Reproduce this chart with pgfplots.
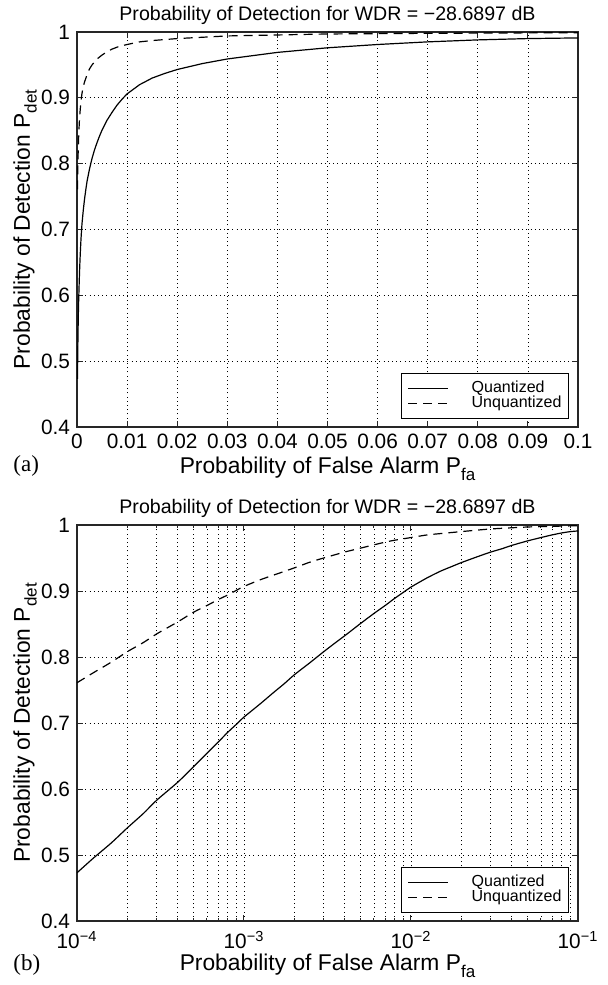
\documentclass[border=0pt]{standalone}
\usepackage{pgfplots}
\pgfplotsset{compat=1.18}
\usepackage{pgfplotstable}
\usepackage{fontspec}
\setmainfont{Liberation Sans}
\newfontfamily\serif{Liberation Serif}

\pgfplotstableread{
x y
0.0001 0.473
0.000125 0.495
0.00016 0.518
0.0002 0.541
0.00025 0.563
0.0003 0.583
0.0004 0.610
0.0005 0.634
0.0006 0.654
0.0007 0.671
0.0008 0.686
0.0009 0.698
0.001 0.709
0.00125 0.729
0.0015 0.746
0.00175 0.760
0.002 0.773
0.0025 0.792
0.003 0.808
0.0035 0.821
0.004 0.832
0.0045 0.842
0.005 0.851
0.006 0.866
0.007 0.878
0.008 0.889
0.009 0.898
0.01 0.906
0.0125 0.920
0.015 0.930
0.0175 0.937
0.02 0.943
0.025 0.952
0.03 0.959
0.035 0.964
0.04 0.969
0.05 0.976
0.06 0.981
0.07 0.985
0.08 0.988
0.09 0.990
0.1 0.991
}\quant

\pgfplotstableread{
x y
0.0001 0.761
0.000125 0.776
0.00016 0.792
0.0002 0.808
0.00025 0.822
0.0003 0.835
0.0004 0.853
0.0005 0.868
0.0006 0.878
0.0007 0.887
0.0008 0.894
0.0009 0.901
0.001 0.907
0.00125 0.917
0.0015 0.924
0.002 0.935
0.0025 0.944
0.003 0.950
0.004 0.959
0.005 0.965
0.006 0.970
0.007 0.974
0.008 0.977
0.01 0.981
0.0125 0.985
0.015 0.987
0.02 0.990
0.03 0.994
0.05 0.997
0.07 0.998
0.1 0.999
}\unquant

\pgfplotsset{
  every axis/.append style={
    scale only axis,
    width=250.5pt,
    font=\fontsize{10.4}{11}\selectfont,
    axis line style={line width=0.6pt, black!85},
    tick style={black!85, line width=0.5pt},
    major tick length=3pt,
    minor tick length=1.6pt,
    tick align=inside,
    ymin=0.4, ymax=1,
    ytick={0.4,0.5,0.6,0.7,0.8,0.9,1},
    yticklabels={0.4,0.5,0.6,0.7,0.8,0.9,1},
    major grid style={black, line width=0.4pt, dash pattern=on 0.5pt off 1.6pt},
    minor grid style={black, line width=0.4pt, dash pattern=on 0.5pt off 1.6pt},
    title={Probability of Detection for WDR = −28.6897 dB},
    every axis title shift=0pt,
    title style={font=\fontsize{9.8}{10}\selectfont, at={(axis description cs:0.5,1.03)}, anchor=base, yshift=0pt},
    xlabel={Probability of False Alarm P\raisebox{-0.55ex}{\fontsize{8.5}{9}\selectfont fa}},
    ylabel={Probability of Detection P\raisebox{-0.55ex}{\fontsize{8.5}{9}\selectfont det}},
    label style={font=\fontsize{11.4}{12}\selectfont},
    ylabel style={at={(axis description cs:-0.094,0.5)}, anchor=base},
    legend style={at={(1,0)}, anchor=south east, xshift=-4.5pt, yshift=4pt,
      draw=black, line width=0.5pt, fill=white, font=\fontsize{8}{8.5}\selectfont,
      inner xsep=3pt, inner ysep=3.5pt, row sep=-0.5pt,
      nodes={inner sep=0.5pt, text height=5.7pt, text depth=1.4pt},
      /tikz/every odd column/.append style={column sep=11pt},
      legend cell align=left},
    legend image code/.code={\draw[#1] (1.5pt,0pt) -- (21.5pt,0pt);},
    /pgf/number format/assume math mode=true,
  }
}

\begin{document}
\begin{tikzpicture}
\useasboundingbox (0,0) rectangle (303.5pt,492.5pt);

\begin{axis}[
  at={(38.5pt,279pt)}, anchor=south west,
  height=197.5pt,
  xmin=0, xmax=0.1,
  xtick={0,0.01,0.02,0.03,0.04,0.05,0.06,0.07,0.08,0.09,0.1},
  xticklabels={0,0.01,0.02,0.03,0.04,0.05,0.06,0.07,0.08,0.09,0.1},
  scaled x ticks=false,
  grid=major,
  xlabel style={at={(axis description cs:0.5,-0.118)}, anchor=base},
]
\addplot[black, line width=0.6pt] table[x=x,y=y] {\quant};
\addplot[black, line width=0.6pt, dash pattern=on 4.5pt off 3pt] table[x=x,y=y] {\unquant};
\legend{Quantized,Unquantized}
\end{axis}

\begin{axis}[
  at={(38.5pt,32pt)}, anchor=south west,
  height=198pt,
  xmode=log,
  xmin=1e-4, xmax=1e-1,
  xtick={1e-4,1e-3,1e-2,1e-1},
  xticklabels={10\textsuperscript{−4},10\textsuperscript{−3},10\textsuperscript{−2},10\textsuperscript{−1}},
  xticklabel style={yshift=-1.5pt},
  grid=both,
  xlabel style={at={(axis description cs:0.5,-0.125)}, anchor=base},
]
\addplot[black, line width=0.6pt, smooth, tension=0.4] table[x=x,y=y] {\quant};
\addplot[black, line width=0.6pt, smooth, tension=0.4, dash pattern=on 4.5pt off 3pt] table[x=x,y=y] {\unquant};
\legend{Quantized,Unquantized}
\end{axis}

\node[font=\serif\fontsize{11.5}{12}\selectfont, anchor=base west, inner sep=0pt] at (6.5pt,256.5pt) {(a)};
\node[font=\serif\fontsize{11.5}{12}\selectfont, anchor=base west, inner sep=0pt] at (6.5pt,7pt) {(b)};
\end{tikzpicture}
\end{document}
